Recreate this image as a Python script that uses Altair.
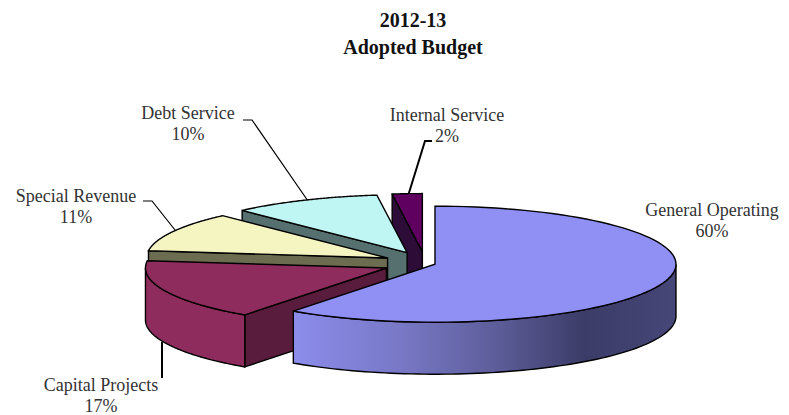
import altair as alt
import numpy as np

# Budget shares by fund type
categories = ["General Operating", "Capital Projects", "Special Revenue", "Debt Service", "Internal Service"]
shares = [60, 17, 11, 10, 2]
explode = [0.25, 1.0, 1.0, 1.0, 1.0]
title_lines = ["2012-13", "Adopted Budget"]

# Colours of the top faces and of the cut faces
top_colors = ["#9090F4", "#8E2C5E", "#F5F5C2", "#BFF5F2", "#5F0060"]
cut_colors = ["#44447A", "#5A1C3C", "#6C6C50", "#567070", "#2E0C38"]
rim_colors = ["#44447A", "#8E2C5E", "#6C6C50", "#567070", "#2E0C38"]

# Pie projection, in page pixels
CX, CY = 425.0, 263.3
RX, RY, DEPTH = 241.0, 58.0, 52.0
EX, EY = 42.0, 11.75


def ring(theta_deg, ax, ay, drop=0.0):
    t = np.radians(theta_deg)
    return [[float(ax + RX * np.sin(a)), float(ay - RY * np.cos(a) + drop)] for a in np.atleast_1d(t)]


def feature(points, fill):
    pts = points + [points[0]]
    return {"type": "Feature", "geometry": {"type": "Polygon", "coordinates": [pts]}, "properties": {"fill": fill}}


def stroke_path(points, width):
    return {"type": "Feature", "geometry": {"type": "LineString", "coordinates": points}, "properties": {"w": width}}


edges = np.concatenate([[0], np.cumsum(shares)]) * 3.6
apex, arcs = [], []
for i, share in enumerate(shares):
    a0, a1 = edges[i], edges[i + 1]
    mid = np.radians((a0 + a1) / 2)
    apex.append((CX + explode[i] * EX * np.sin(mid), CY - explode[i] * EY * np.cos(mid)))
    arcs.append((a0, a1))


def top_face(i):
    ax, ay = apex[i]
    a0, a1 = arcs[i]
    return feature([[ax, ay]] + ring(np.linspace(a0, a1, 90), ax, ay), top_colors[i])


def lower_cut(i):
    # Cut wall along the slice's leading edge, which faces the viewer
    ax, ay = apex[i]
    v = ring(arcs[i][0], ax, ay)[0]
    return feature([v, [ax, ay], [ax, ay + DEPTH], [v[0], v[1] + DEPTH]], cut_colors[i])


def rim(i, a0, a1):
    ax, ay = apex[i]
    th = np.linspace(a0, a1, 80)
    upper = ring(th, ax, ay)
    lower = ring(th[::-1], ax, ay, DEPTH)
    return feature(upper + lower, rim_colors[i])


# Back to front: Internal Service, Debt Service, Special Revenue, Capital Projects
back = []
for i in [4, 3, 2]:
    back += [lower_cut(i), top_face(i)]
back += [lower_cut(1), rim(1, arcs[1][0], 270), top_face(1)]

projection = alt.Projection(type="identity", scale=1, translate=[0, 0])
OUTLINE = {"stroke": "#000000", "strokeWidth": 1.4, "strokeJoin": "miter"}

faces = (
    alt.Chart(alt.Data(values=back))
    .mark_geoshape(**OUTLINE)
    .encode(fill=alt.Fill("properties.fill:N", scale=None))
    .project(**projection.to_dict())
)

rim_gradient = alt.Gradient(
    gradient="linear",
    x1=0, x2=1, y1=0, y2=0,
    stops=[
        alt.GradientStop(color="#8C8CEC", offset=0.0),
        alt.GradientStop(color="#7878C6", offset=0.28),
        alt.GradientStop(color="#5E5E9C", offset=0.52),
        alt.GradientStop(color="#3C3C68", offset=0.76),
        alt.GradientStop(color="#464678", offset=1.0),
    ],
)
general_rim = (
    alt.Chart(alt.Data(values=[rim(0, 90, arcs[0][1])]))
    .mark_geoshape(fill=rim_gradient, **OUTLINE)
    .project(**projection.to_dict())
)
general_top = (
    alt.Chart(alt.Data(values=[top_face(0)]))
    .mark_geoshape(**OUTLINE)
    .encode(fill=alt.Fill("properties.fill:N", scale=None))
    .project(**projection.to_dict())
)

# Leader lines from the labels to their slices
leaders = [
    stroke_path([[243, 120], [252, 120], [308, 201]], 1.2),
    stroke_path([[143, 201], [152, 201], [175, 230]], 1.2),
    stroke_path([[432, 141], [425, 141], [408, 196]], 2.0),
    stroke_path([[162, 342], [162, 378]], 2.0),
]
leader_layer = (
    alt.Chart(alt.Data(values=leaders))
    .mark_geoshape(filled=False, stroke="#000000")
    .encode(strokeWidth=alt.StrokeWidth("properties.w:Q", scale=None))
    .project(**projection.to_dict())
)

# Slice labels: name above, share below
label_anchor = {
    "General Operating": (712, 216),
    "Capital Projects": (101, 391),
    "Special Revenue": (76, 202),
    "Debt Service": (188, 119),
    "Internal Service": (447, 121),
}
label_rows = []
for name, share in zip(categories, shares):
    lx, ly = label_anchor[name]
    label_rows.append({"lon": lx, "lat": ly, "text": name})
    label_rows.append({"lon": lx, "lat": ly + 21, "text": f"{share}%"})

FONT = "Liberation Serif"
labels = (
    alt.Chart(alt.Data(values=label_rows))
    .mark_text(font=FONT, fontSize=18, color="#333333", align="center", baseline="alphabetic")
    .encode(longitude="lon:Q", latitude="lat:Q", text="text:N")
    .project(**projection.to_dict())
)

title_rows = [{"lon": 413, "lat": 27, "text": title_lines[0]}, {"lon": 413, "lat": 54, "text": title_lines[1]}]
title = (
    alt.Chart(alt.Data(values=title_rows))
    .mark_text(font=FONT, fontSize=20, fontWeight="bold", color="#111111", align="center", baseline="alphabetic")
    .encode(longitude="lon:Q", latitude="lat:Q", text="text:N")
    .project(**projection.to_dict())
)

chart = (
    alt.layer(leader_layer, faces, general_rim, general_top, labels, title)
    .properties(width=789, height=415, padding=0, background="#FFFFFF")
    .configure_view(stroke=None)
)

chart.save("out.html", embed_options={"renderer": "svg", "actions": False})
